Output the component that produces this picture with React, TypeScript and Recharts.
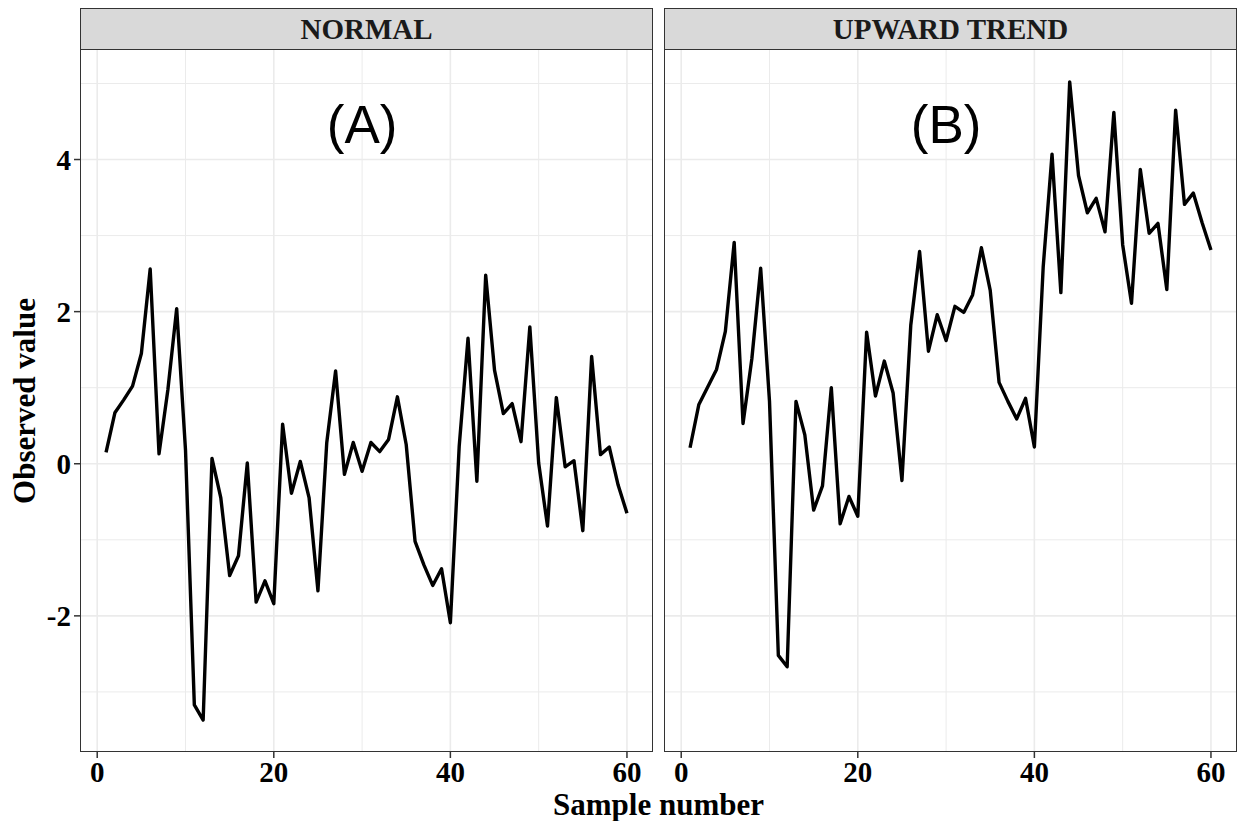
import {
  LineChart,
  Line,
  XAxis,
  YAxis,
  ReferenceLine,
  ReferenceDot,
} from "recharts";

const sampleNumbers = [
  1, 2, 3, 4, 5, 6, 7, 8, 9, 10, 11, 12, 13, 14, 15, 16, 17, 18, 19, 20,
  21, 22, 23, 24, 25, 26, 27, 28, 29, 30, 31, 32, 33, 34, 35, 36, 37, 38, 39, 40,
  41, 42, 43, 44, 45, 46, 47, 48, 49, 50, 51, 52, 53, 54, 55, 56, 57, 58, 59, 60,
];

const normalValues = [
  0.15, 0.67, 0.84, 1.02, 1.45, 2.56, 0.13, 0.97, 2.04, 0.18,
  -3.17, -3.37, 0.07, -0.45, -1.47, -1.21, 0.01, -1.82, -1.54, -1.84,
  0.52, -0.39, 0.03, -0.45, -1.67, 0.28, 1.22, -0.14, 0.28, -0.1,
  0.28, 0.16, 0.32, 0.88, 0.25, -1.02, -1.33, -1.6, -1.38, -2.09,
  0.23, 1.65, -0.23, 2.48, 1.23, 0.66, 0.79, 0.29, 1.8, 0.01,
  -0.82, 0.87, -0.04, 0.04, -0.88, 1.41, 0.12, 0.22, -0.28, -0.65,
];

const upwardValues = [
  0.21, 0.78, 1.01, 1.24, 1.74, 2.91, 0.53, 1.38, 2.57, 0.82,
  -2.52, -2.67, 0.82, 0.38, -0.61, -0.29, 1.0, -0.79, -0.43, -0.69,
  1.73, 0.89, 1.35, 0.93, -0.22, 1.82, 2.79, 1.48, 1.96, 1.62,
  2.07, 1.99, 2.22, 2.84, 2.28, 1.07, 0.82, 0.59, 0.86, 0.22,
  2.59, 4.07, 2.25, 5.02, 3.79, 3.3, 3.49, 3.05, 4.62, 2.88,
  2.11, 3.87, 3.03, 3.16, 2.29, 4.65, 3.41, 3.56, 3.17, 2.81,
];

const xTicks = [0, 20, 40, 60];
const xMinor = [10, 30, 50];
const yTicks = [-2, 0, 2, 4];
const yMinor = [-3, -1, 1, 3, 5];

// ggplot-style 5% expansion around the data range
const X_DOMAIN = [-1.95, 62.95];
const Y_DOMAIN = [-3.79, 5.44];

const SERIF = "'Liberation Serif', 'Times New Roman', serif";
const GRID = "#ebebeb";
const DARK = "#333333";

const PLOT_TOP = 50;
const PLOT_BOTTOM = 752;
const PLOT_W = 573;

interface PanelProps {
  title: string;
  tag: string;
  values: number[];
  left: number;
  showY: boolean;
}

function Panel({ title, tag, values, left, showY }: PanelProps) {
  const data = sampleNumbers.map((n, i) => ({ n, v: values[i] }));
  const yW = showY ? 80 : 0;
  const chartLeft = left - yW;
  const width = yW + PLOT_W + 2;
  const height = 821;
  const tickStyle = { fontFamily: SERIF, fontWeight: 700, fontSize: 29, fill: "#000" };

  return (
    <>
      <div style={{ position: "absolute", left: chartLeft, top: 0 }}>
        <LineChart
          width={width}
          height={height}
          data={data}
          margin={{ top: PLOT_TOP, right: 2, left: 0, bottom: 0 }}
        >
          <XAxis
            dataKey="n"
            type="number"
            domain={X_DOMAIN}
            ticks={xTicks}
            allowDataOverflow
            height={height - PLOT_BOTTOM}
            axisLine={false}
            tickSize={6}
            tickMargin={3}
            tickLine={{ stroke: DARK, strokeWidth: 1.5 }}
            tick={tickStyle}
          />
          <YAxis
            type="number"
            domain={Y_DOMAIN}
            ticks={yTicks}
            allowDataOverflow
            hide={!showY}
            width={yW}
            axisLine={false}
            tickSize={6}
            tickMargin={3}
            tickLine={{ stroke: DARK, strokeWidth: 1.5 }}
            tick={tickStyle}
          />
          {xMinor.map((x) => (
            <ReferenceLine key={`xm${x}`} x={x} stroke={GRID} strokeWidth={1} />
          ))}
          {yMinor.map((y) => (
            <ReferenceLine key={`ym${y}`} y={y} stroke={GRID} strokeWidth={1} />
          ))}
          {xTicks.map((x) => (
            <ReferenceLine key={`x${x}`} x={x} stroke={GRID} strokeWidth={1.6} />
          ))}
          {yTicks.map((y) => (
            <ReferenceLine key={`y${y}`} y={y} stroke={GRID} strokeWidth={1.6} />
          ))}
          <ReferenceDot
            x={30}
            y={4.47}
            r={0}
            stroke="none"
            label={{
              value: tag,
              position: "center",
              fontSize: 53,
              fill: "#000",
              fontFamily: "'Liberation Sans', Arial, sans-serif",
            }}
          />
          <Line
            type="linear"
            dataKey="v"
            stroke="#000"
            strokeWidth={3.4}
            strokeLinejoin="round"
            dot={false}
            isAnimationActive={false}
          />
        </LineChart>
      </div>
      {/* strip + panel border */}
      <div
        style={{
          position: "absolute",
          left,
          top: 8,
          width: PLOT_W,
          height: PLOT_TOP - 8,
          boxSizing: "border-box",
          background: "#d9d9d9",
          border: `1.5px solid ${DARK}`,
          display: "flex",
          alignItems: "center",
          justifyContent: "center",
          fontFamily: SERIF,
          fontWeight: 700,
          fontSize: 29,
          color: "#1a1a1a",
        }}
      >
        {title}
      </div>
      <div
        style={{
          position: "absolute",
          left,
          top: PLOT_TOP - 1,
          width: PLOT_W,
          height: PLOT_BOTTOM - PLOT_TOP + 1,
          boxSizing: "border-box",
          border: `1.5px solid ${DARK}`,
          pointerEvents: "none",
        }}
      />
    </>
  );
}

export default function App() {
  return (
    <div
      style={{
        position: "absolute",
        left: 0,
        top: 0,
        width: 1239,
        height: 821,
        background: "#fff",
        overflow: "hidden",
      }}
    >
      <Panel title="NORMAL" tag="(A)" values={normalValues} left={80} showY />
      <Panel title="UPWARD TREND" tag="(B)" values={upwardValues} left={664} showY={false} />
      <div
        style={{
          position: "absolute",
          left: 80,
          width: 1157,
          top: 790,
          height: 30,
          textAlign: "center",
          fontFamily: SERIF,
          fontWeight: 700,
          fontSize: 31,
          lineHeight: "30px",
        }}
      >
        Sample number
      </div>
      <div
        style={{
          position: "absolute",
          left: 25 - 150,
          top: 401 - 18,
          width: 300,
          textAlign: "center",
          transform: "rotate(-90deg)",
          fontFamily: SERIF,
          fontWeight: 700,
          fontSize: 31,
          lineHeight: "36px",
        }}
      >
        Observed value
      </div>
    </div>
  );
}
